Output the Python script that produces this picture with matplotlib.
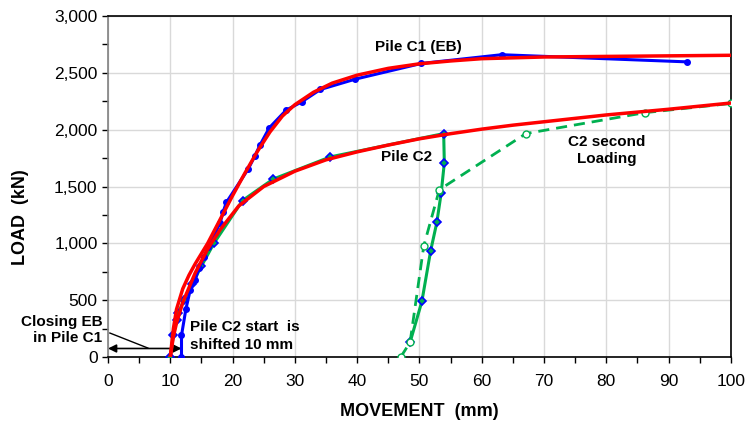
import matplotlib
matplotlib.use("Agg")
import matplotlib.pyplot as plt
from matplotlib.ticker import MultipleLocator, StrMethodFormatter

plt.rcParams['font.family'] = ['Liberation Sans', 'DejaVu Sans']

# Pile C1 (EB) measured
c1_x = [11.8, 11.8, 12.5, 13.2, 14.0, 14.6, 15.4, 16.1, 17.2, 18.0, 18.5, 19.0,
        22.5, 23.6, 24.4, 25.9, 28.6, 31.1, 34.1, 39.7, 50.3, 63.2, 93.0]
c1_y = [0, 190, 420, 590, 680, 780, 880, 970, 1090, 1180, 1280, 1360,
        1653, 1771, 1865, 2017, 2172, 2245, 2354, 2445, 2583, 2660, 2597]

# Pile C2 measured (first loading + unloading)
c2_x = [10.0, 10.5, 11.0, 11.3, 12.2, 13.5, 15.0, 17.0, 21.6, 26.5, 35.7, 53.9,
        54.0, 53.5, 52.8, 51.8, 50.4, 48.5]
c2_y = [0, 193, 325, 390, 500, 640, 800, 1000, 1377, 1565, 1761, 1966,
        1708, 1444, 1185, 933, 490, 129]

# C2 second loading
c2b_x = [47.0, 48.5, 50.7, 53.2, 67.1, 86.2, 100.0]
c2b_y = [0, 129, 977, 1472, 1966, 2150, 2231]

# fitted curves (red)
fit1_x = [10, 10.5, 11, 12, 13, 14, 16, 18, 20, 22, 24, 26, 28, 30, 33, 36, 40,
          45, 50, 55, 60, 70, 80, 100]
fit1_y = [0, 250, 420, 600, 720, 820, 1000, 1210, 1420, 1620, 1810, 1980, 2120,
          2220, 2330, 2410, 2480, 2540, 2580, 2605, 2625, 2640, 2645, 2655]
fit2_x = [10, 10.5, 11, 12, 14, 16, 18, 21, 25, 30, 35, 40, 45, 50, 55, 60, 65,
          70, 80, 90, 100]
fit2_y = [0, 180, 300, 480, 740, 950, 1120, 1330, 1500, 1635, 1735, 1805, 1865,
          1920, 1965, 2005, 2040, 2070, 2130, 2180, 2235]

fig = plt.figure(figsize=(7.48, 4.23), dpi=100)
ax = fig.add_axes([0.1444, 0.156, 0.8326, 0.806])

ax.annotate('', xy=(0, 75), xytext=(11.8, 75),
            arrowprops=dict(arrowstyle='<|-|>', color='black', lw=1.2,
                            mutation_scale=12, shrinkA=0, shrinkB=0), zorder=2.5)
ax.plot([0.3, 6.4], [211, 79], color='black', lw=1, zorder=2.5)

ax.plot(c2_x, c2_y, color='#00b050', lw=2.2, marker='D', ms=4.5,
        mfc='#00b050', mec='blue', mew=1.2, zorder=3)
ax.plot(c2b_x, c2b_y, color='#00b050', lw=2, ls=(0, (4, 2.5)), marker='o', ms=5,
        mfc='white', mec='#00b050', mew=1, zorder=3)
ax.plot(c1_x, c1_y, color='blue', lw=2.2, marker='o', ms=4, zorder=4)
ax.plot(fit1_x, fit1_y, color='red', lw=2.5, zorder=5)
ax.plot(fit2_x, fit2_y, color='red', lw=2.5, zorder=5)

ax.set_xlim(0, 100)
ax.set_ylim(0, 3000)
ax.xaxis.set_major_locator(MultipleLocator(10))
ax.xaxis.set_minor_locator(MultipleLocator(5))
ax.yaxis.set_major_locator(MultipleLocator(500))
ax.yaxis.set_minor_locator(MultipleLocator(250))
ax.yaxis.set_major_formatter(StrMethodFormatter('{x:,.0f}'))
ax.grid(True, which='major', color='#d9d9d9', lw=1)
ax.set_axisbelow(True)
ax.tick_params(which='both', direction='out', length=4, width=1, labelsize=12.5)
ax.tick_params(axis='x', pad=8)
ax.spines['left'].set_color('#808080')
for s in ['bottom', 'top', 'right']:
    ax.spines[s].set_color('black')
for s in ax.spines.values():
    s.set_linewidth(1.2)

ax.set_xlabel('MOVEMENT  (mm)', fontsize=13, fontweight='bold', labelpad=10)
ax.set_ylabel('LOAD  (kN)', fontsize=13, fontweight='bold')
ax.yaxis.set_label_coords(-0.127, 0.41)

ax.text(49.8, 2727, 'Pile C1 (EB)', fontsize=11, fontweight='bold', ha='center', va='center')
ax.text(48, 1759, 'Pile C2', fontsize=11, fontweight='bold', ha='center', va='center')
ax.text(80.1, 1820, 'C2 second\nLoading', fontsize=11, fontweight='bold',
        ha='center', va='center', linespacing=1.3)
ax.text(13.2, 185, 'Pile C2 start  is\nshifted 10 mm', fontsize=11, fontweight='bold',
        ha='left', va='center', linespacing=1.3)
ax.text(-0.9, 237, 'Closing EB\nin Pile C1', fontsize=11, fontweight='bold',
        ha='right', va='center', linespacing=1.2, clip_on=False)

fig.savefig('out.png', dpi=100)
